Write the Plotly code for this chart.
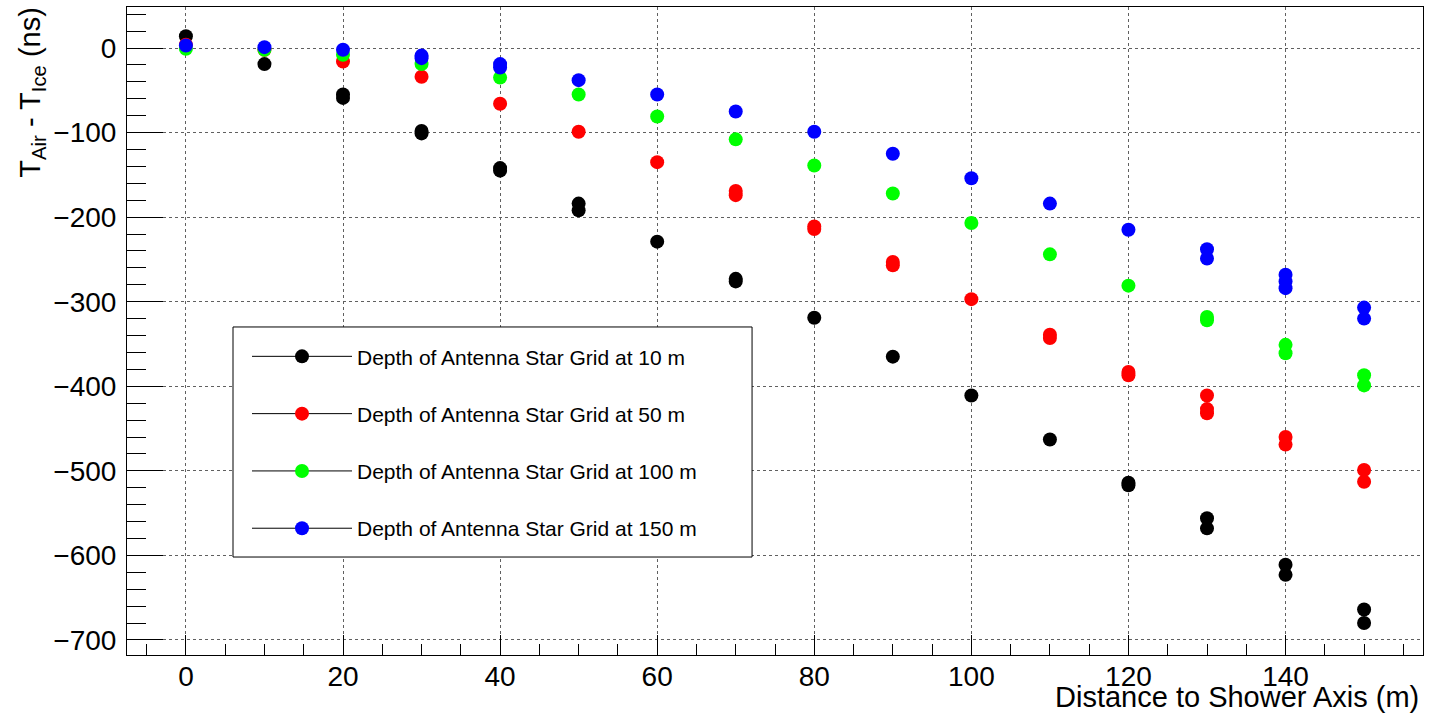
import plotly.graph_objects as go

# ---- data ----
dist_10 = [0, 10, 20, 20, 30, 30, 40, 40, 50, 50, 60, 70, 70, 80, 90, 100, 110, 120, 120, 130, 130, 140, 140, 150, 150]
dt_10 = [14, -19, -55, -59, -98, -101, -142, -145, -184, -192, -229, -273, -276, -319, -365, -411, -463, -514, -517, -556, -568, -611, -623, -664, -680]

dist_50 = [0, 10, 20, 30, 40, 50, 60, 70, 70, 80, 80, 90, 90, 100, 110, 110, 120, 120, 130, 130, 130, 140, 140, 150, 150]
dt_50 = [4, -2, -16, -34, -66, -99, -135, -169, -174, -211, -214, -253, -257, -297, -339, -343, -383, -387, -411, -427, -432, -460, -469, -499, -513]

dist_100 = [0, 10, 20, 30, 40, 50, 60, 70, 80, 90, 100, 110, 120, 130, 130, 140, 140, 150, 150]
dt_100 = [-1, -2, -8, -19, -35, -55, -81, -108, -139, -172, -207, -244, -281, -318, -322, -351, -361, -387, -399]

dist_150 = [0, 10, 20, 30, 30, 40, 40, 50, 60, 70, 80, 90, 100, 110, 120, 130, 130, 140, 140, 140, 150, 150]
dt_150 = [3, 1, -2, -9, -12, -19, -23, -38, -55, -75, -99, -125, -154, -184, -215, -238, -249, -268, -276, -284, -307, -320]

series_names = [
    "Depth of Antenna Star Grid at 10 m",
    "Depth of Antenna Star Grid at 50 m",
    "Depth of Antenna Star Grid at 100 m",
    "Depth of Antenna Star Grid at 150 m",
]
series_colors = ["#000000", "#ff0000", "#00ff00", "#0000ff"]

x_ticks = [0, 20, 40, 60, 80, 100, 120, 140]
y_ticks = [0, -100, -200, -300, -400, -500, -600, -700]

FONT = "Liberation Sans, Arial, Helvetica, sans-serif"

fig = go.Figure()
all_x = [dist_10, dist_50, dist_100, dist_150]
all_y = [dt_10, dt_50, dt_100, dt_150]
for xs, ys, name, col in zip(all_x, all_y, series_names, series_colors):
    fig.add_trace(go.Scatter(
        x=xs, y=ys, mode="markers", name=name, showlegend=False,
        marker=dict(color=col, size=14, line=dict(width=0)),
    ))
# legend entries (line + marker, like the ROOT legend)
for i, (name, col) in enumerate(zip(series_names, series_colors)):
    fig.add_trace(go.Scatter(
        x=[None], y=[None], mode="lines+markers", name=name,
        legendgroup=f"g{i}",
        line=dict(color="black", width=1),
        marker=dict(color=col, size=14),
    ))

axis_common = dict(
    showline=True, linecolor="black", linewidth=1, mirror=True,
    ticks="inside", tickcolor="black", tickwidth=1,
    showgrid=True, gridcolor="#606060", griddash="dot", gridwidth=1,
    zeroline=False,
    tickfont=dict(family=FONT, size=28, color="black"),
)

fig.update_xaxes(
    range=[-7.5, 157.5], tickvals=x_ticks, ticklen=20,
    minor=dict(ticks="inside", ticklen=11, dtick=5, tick0=0, tickcolor="black", showgrid=False),
    ticklabelstandoff=-4,
    **axis_common,
)
fig.update_yaxes(
    range=[-717.8, 48.5], tickvals=y_ticks, ticklen=36,
    minor=dict(ticks="inside", ticklen=19, dtick=20, tick0=0, tickcolor="black", showgrid=False),
    ticklabelstandoff=4,
    **axis_common,
)

fig.update_layout(
    width=1434, height=716, autosize=False,
    margin=dict(l=127, r=11, t=7, b=61),
    plot_bgcolor="white", paper_bgcolor="white",
    font=dict(family=FONT, color="black"),
    legend=dict(
        x=0.0926, y=0.492, xanchor="left", yanchor="top",
        bgcolor="rgba(0,0,0,0)", borderwidth=0,
        font=dict(family=FONT, size=21, color="black"),
        tracegroupgap=27, itemwidth=100,
    ),
    shapes=[dict(
        type="rect", xref="paper", yref="paper",
        x0=0.0818, x1=0.4823, y0=0.1512, y1=0.5062,
        line=dict(color="black", width=1), fillcolor="white", layer="above",
    )],
    annotations=[
        dict(text="Distance to Shower Axis (m)", xref="paper", yref="paper",
             x=0.9985, y=-0.092, xanchor="right", yanchor="bottom", showarrow=False,
             font=dict(family=FONT, size=29, color="black")),
        dict(text="T<sub>Air</sub> - T<sub>Ice</sub> (ns)", xref="paper", yref="paper",
             x=-0.074, y=1.003, xanchor="center", yanchor="top", textangle=-90, showarrow=False,
             font=dict(family=FONT, size=29, color="black")),
    ],
)

fig.write_html("out.html")
